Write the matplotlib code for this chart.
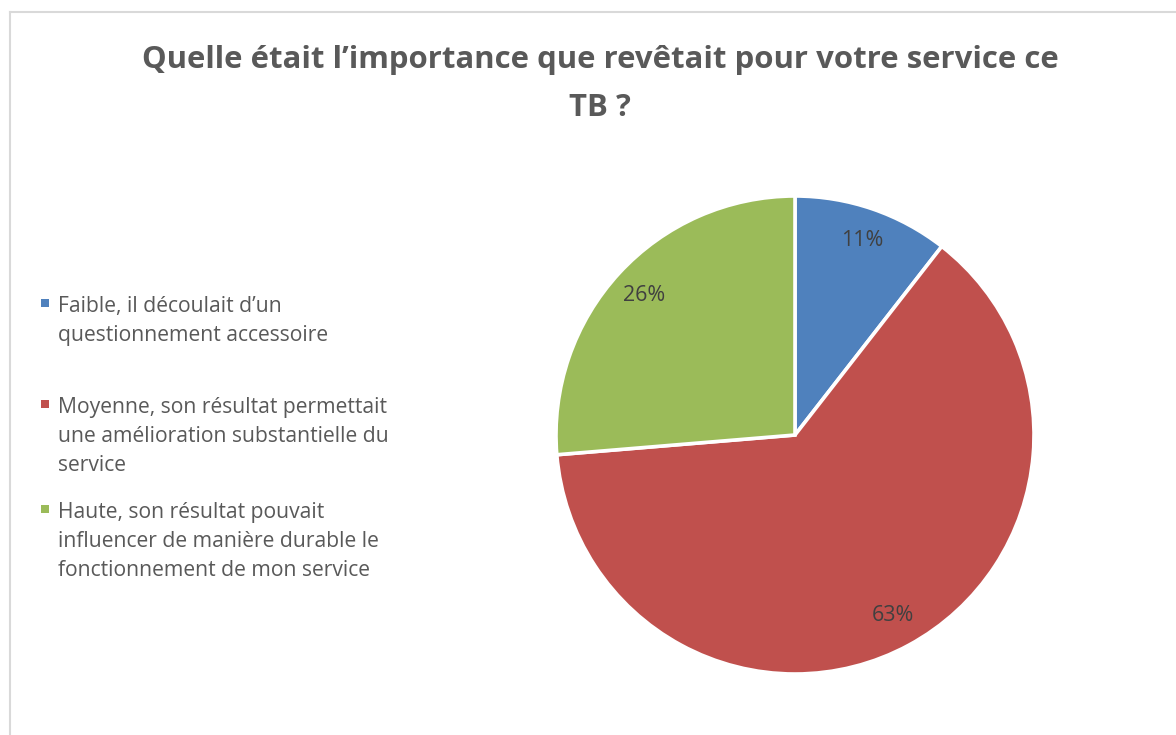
import matplotlib
matplotlib.use("Agg")
import matplotlib.pyplot as plt
from matplotlib.patches import Rectangle
from matplotlib.lines import Line2D

# ---- data ----
categories = [
    "Faible, il découlait d\u2019un\nquestionnement accessoire",
    "Moyenne, son résultat permettait\nune amélioration substantielle du\nservice",
    "Haute, son résultat pouvait\ninfluencer de manière durable le\nfonctionnement de mon service",
]
values = [2, 12, 5]  # responses -> 11%, 63%, 26%
colors = ["#4F81BD", "#C0504D", "#9BBB59"]
title = "Quelle était l\u2019importance que revêtait pour votre service ce\nTB ?"

W, H = 1176, 735
fig = plt.figure(figsize=(W / 100, H / 100), dpi=100)
fig.patch.set_facecolor("white")

def fx(x):
    return x / W

def fy(y):
    return 1 - y / H

# chart border (top and left visible)
fig.add_artist(Line2D([fx(10), fx(W)], [fy(12), fy(12)], color="#D9D9D9", lw=1.5))
fig.add_artist(Line2D([fx(10), fx(10)], [fy(12), fy(H)], color="#D9D9D9", lw=1.5))

# title
t1, t2 = title.split("\n")
fig.text(fx(600), fy(68), t1, ha="center", va="baseline", fontsize=22.4,
         fontweight="bold", color="#595959", family="Open Sans")
fig.text(fx(600), fy(116), t2, ha="center", va="baseline", fontsize=22.4,
         fontweight="bold", color="#595959", family="Open Sans")

# pie
cx, cy, r = 795, 435, 239
box = 242
ax = fig.add_axes([fx(cx - box), fy(cy + box), 2 * box / W, 2 * box / H])
wedges, texts, autotexts = ax.pie(
    values, colors=colors, startangle=90, counterclock=False,
    autopct=lambda p: f"{p:.0f}%", pctdistance=0.86,
    wedgeprops=dict(edgecolor="white", linewidth=2.6),
    textprops=dict(color="#404040", fontsize=15.5, family="Open Sans"),
)
lim = box / r
ax.set_xlim(-lim, lim)
ax.set_ylim(-lim, lim)
ax.set_aspect("auto")
ax.axis("off")

# legend
first_baselines = [312, 413, 518]
line_step = 29
for lab, col, b0 in zip(categories, colors, first_baselines):
    sq = 7.5
    fig.add_artist(Rectangle((fx(41), fy(b0 - 9 + sq / 2)), sq / W, sq / H,
                             transform=fig.transFigure, facecolor=col,
                             edgecolor="none"))
    for i, line in enumerate(lab.split("\n")):
        fig.text(fx(58), fy(b0 + i * line_step), line, ha="left", va="baseline",
                 fontsize=15.2, color="#595959", family="Open Sans")

fig.savefig("out.png", dpi=100, facecolor="white")
